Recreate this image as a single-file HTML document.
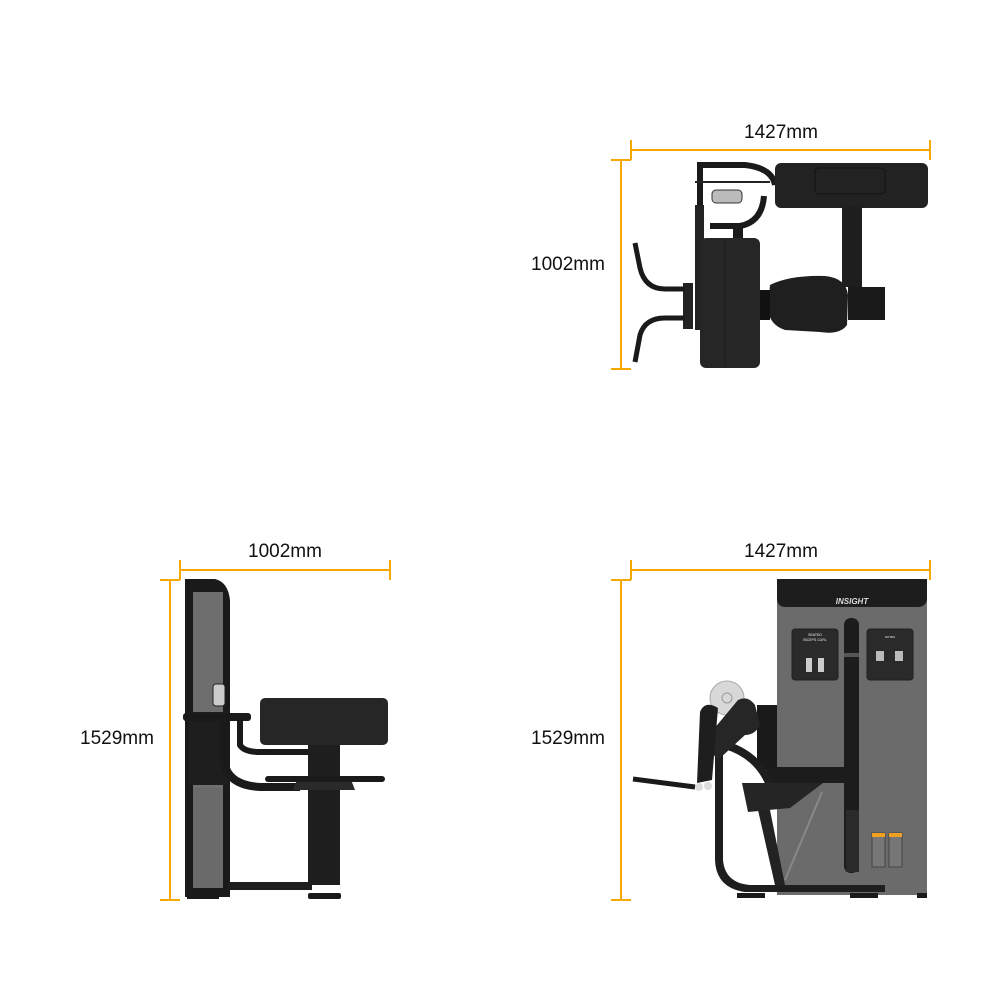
<!DOCTYPE html>
<html><head><meta charset="utf-8"><style>
html,body{margin:0;padding:0;background:#fff;}
svg{display:block;}
text{font-family:"Liberation Sans",sans-serif;}
</style></head><body>
<svg width="1000" height="1000" viewBox="0 0 1000 1000" xmlns="http://www.w3.org/2000/svg">
<g stroke="#f5a800" stroke-width="2" fill="none">
  <!-- top view dims -->
  <line x1="631" y1="150" x2="930" y2="150"/><line x1="631" y1="140" x2="631" y2="160"/><line x1="930" y1="140" x2="930" y2="160"/>
  <line x1="621" y1="160" x2="621" y2="369"/><line x1="611" y1="160" x2="631" y2="160"/><line x1="611" y1="369" x2="631" y2="369"/>
  <!-- side view dims -->
  <line x1="180" y1="570" x2="390" y2="570"/><line x1="180" y1="560" x2="180" y2="580"/><line x1="390" y1="560" x2="390" y2="580"/>
  <line x1="170" y1="580" x2="170" y2="900"/><line x1="160" y1="580" x2="180" y2="580"/><line x1="160" y1="900" x2="180" y2="900"/>
  <!-- front view dims -->
  <line x1="631" y1="570" x2="930" y2="570"/><line x1="631" y1="560" x2="631" y2="580"/><line x1="930" y1="560" x2="930" y2="580"/>
  <line x1="621" y1="580" x2="621" y2="900"/><line x1="611" y1="580" x2="631" y2="580"/><line x1="611" y1="900" x2="631" y2="900"/>
</g>
<g font-size="19" fill="#111" text-anchor="middle">
  <text x="781" y="138">1427mm</text>
  <text x="568" y="270">1002mm</text>
  <text x="285" y="557">1002mm</text>
  <text x="117" y="744">1529mm</text>
  <text x="781" y="557">1427mm</text>
  <text x="568" y="744">1529mm</text>
</g>

<!-- TOP VIEW -->
<g>
  <path d="M700 162 L700 228 M702 165 L745 165 Q772 168 775 185" stroke="#1a1a1a" stroke-width="6" fill="none"/>
  <path d="M710 226 L740 226 Q762 222 764 196" stroke="#1a1a1a" stroke-width="6" fill="none"/>
  <line x1="695" y1="182" x2="770" y2="182" stroke="#222" stroke-width="2"/>
  <rect x="712" y="190" width="30" height="13" rx="4" fill="#bbb" stroke="#333"/>
  <rect x="733" y="226" width="10" height="16" fill="#1a1a1a"/>
  <rect x="695" y="205" width="9" height="125" fill="#222"/>
  <rect x="775" y="163" width="153" height="45" rx="6" fill="#222"/>
  <rect x="815" y="168" width="70" height="26" rx="4" fill="none" stroke="#111"/>
  <rect x="842" y="207" width="20" height="80" fill="#1e1e1e"/>
  <rect x="848" y="287" width="37" height="33" fill="#1a1a1a"/>
  <rect x="700" y="238" width="60" height="130" rx="6" fill="#262626"/>
  <line x1="725" y1="240" x2="725" y2="366" stroke="#1a1a1a"/>
  <path d="M770 285 Q790 275 825 276 Q846 278 848 295 L847 325 Q840 335 820 332 L785 330 Q770 325 768 310 Z" fill="#1f1f1f"/>
  <rect x="760" y="290" width="10" height="30" fill="#111"/>
  <rect x="683" y="283" width="10" height="46" fill="#222"/>
  <path d="M635 243 L640 268 Q645 289 665 289 L685 289" stroke="#1a1a1a" stroke-width="5" fill="none"/>
  <path d="M635 362 L640 335 Q645 318 665 318 L685 318" stroke="#1a1a1a" stroke-width="5" fill="none"/>
</g>

<!-- SIDE VIEW -->
<g>
  <path d="M185 579 L215 579 Q228 582 230 600 L230 897 L185 897 Z" fill="#1a1a1a"/>
  <rect x="193" y="592" width="30" height="197" fill="#6e6e6e"/>
  <rect x="193" y="788" width="30" height="100" fill="#6a6a6a"/>
  <rect x="188" y="712" width="40" height="73" fill="#1e1e1e"/>
  <rect x="213" y="684" width="12" height="22" rx="3" fill="#ccc" stroke="#222"/>
  <rect x="183" y="713" width="68" height="8" rx="3" fill="#1a1a1a"/>
  <path d="M224 720 L224 760 Q226 785 260 787 L300 787" stroke="#1a1a1a" stroke-width="8" fill="none"/>
  <path d="M240 720 L240 745 Q244 752 260 752 L310 752" stroke="#1a1a1a" stroke-width="6" fill="none"/>
  <rect x="260" y="698" width="128" height="47" rx="5" fill="#262626"/>
  <rect x="308" y="745" width="32" height="140" fill="#1e1e1e"/>
  <path d="M298 777 L350 777 L355 790 L293 790 Z" fill="#2a2a2a"/>
  <rect x="265" y="776" width="120" height="6" rx="3" fill="#1a1a1a"/>
  <rect x="228" y="882" width="84" height="8" fill="#1e1e1e"/>
  <rect x="187" y="893" width="32" height="6" fill="#1a1a1a"/>
  <rect x="308" y="893" width="33" height="6" rx="2" fill="#1a1a1a"/>
</g>

<!-- FRONT VIEW -->
<g>
  <rect x="777" y="579" width="150" height="316" fill="#6b6b6b"/>
  <path d="M777 579 L927 579 L927 600 Q925 607 918 607 L786 607 Q778 607 777 600 Z" fill="#1d1d1d"/>
  <text x="852" y="604" font-size="8" font-weight="bold" font-style="italic" fill="#ddd" text-anchor="middle">INSIGHT</text>
  <rect x="844" y="618" width="15" height="255" rx="7" fill="#1c1c1c"/>
  <rect x="844" y="653" width="15" height="4" fill="#555"/>
  <rect x="792" y="629" width="46" height="51" rx="3" fill="#2a2a2a" stroke="#222"/>
  <rect x="867" y="629" width="46" height="51" rx="3" fill="#2a2a2a" stroke="#222"/>
  <text x="815" y="636" font-size="3.5" fill="#eee" text-anchor="middle">SEATED</text>
  <text x="815" y="641" font-size="3.5" fill="#eee" text-anchor="middle">BICEPS CURL</text>
  <text x="890" y="638" font-size="3" fill="#eee" text-anchor="middle">NOTES</text>
  <rect x="806" y="658" width="6" height="14" fill="#ccc"/><rect x="818" y="658" width="6" height="14" fill="#ccc"/>
  <rect x="876" y="651" width="8" height="10" fill="#bbb"/><rect x="895" y="651" width="8" height="10" fill="#bbb"/>
  <rect x="846" y="810" width="13" height="62" fill="#2a2a2a"/>
  <rect x="872" y="833" width="13" height="34" fill="#777" stroke="#444"/>
  <rect x="889" y="833" width="13" height="34" fill="#777" stroke="#444"/>
  <rect x="872" y="833" width="13" height="4" fill="#f0a020"/>
  <rect x="889" y="833" width="13" height="4" fill="#f0a020"/>
  <!-- machine front -->
  <rect x="757" y="705" width="20" height="65" fill="#1a1a1a"/>
  <rect x="767" y="767" width="81" height="16" rx="2" fill="#1c1c1c"/>
  <path d="M723 745 L723 860 Q725 883 750 885 L885 885 L885 892 L745 892 Q716 888 715 860 L715 745 Z" fill="#1e1e1e"/>
  <path d="M725 745 Q760 755 772 790" stroke="#1e1e1e" stroke-width="8" fill="none"/>
  <path d="M742 783 L823 783 L790 808 L748 812 Z" fill="#252525"/>
  <path d="M758 810 L770 810 L785 885 L775 885 Z" fill="#222"/>
  <line x1="822" y1="792" x2="785" y2="880" stroke="#888" stroke-width="2"/>
  <circle cx="727" cy="698" r="17" fill="#d8d8d8" stroke="#aaa"/>
  <circle cx="727" cy="698" r="5" fill="none" stroke="#999"/>
  <path d="M703 742 L738 700 Q748 695 755 705 L760 725 Q755 735 745 735 L718 760 Z" fill="#262626"/>
  <path d="M700 712 Q705 700 718 708 L712 780 L697 783 Z" fill="#1e1e1e"/>
  <line x1="633" y1="779" x2="695" y2="787" stroke="#1a1a1a" stroke-width="5"/>
  <circle cx="699" cy="787" r="4" fill="#ddd"/><circle cx="708" cy="786" r="4" fill="#ddd"/>
  <rect x="737" y="893" width="28" height="5" fill="#1a1a1a"/>
  <rect x="850" y="893" width="28" height="5" fill="#1a1a1a"/>
  <rect x="917" y="893" width="10" height="5" fill="#1a1a1a"/>
</g>
</svg>
</body></html>
